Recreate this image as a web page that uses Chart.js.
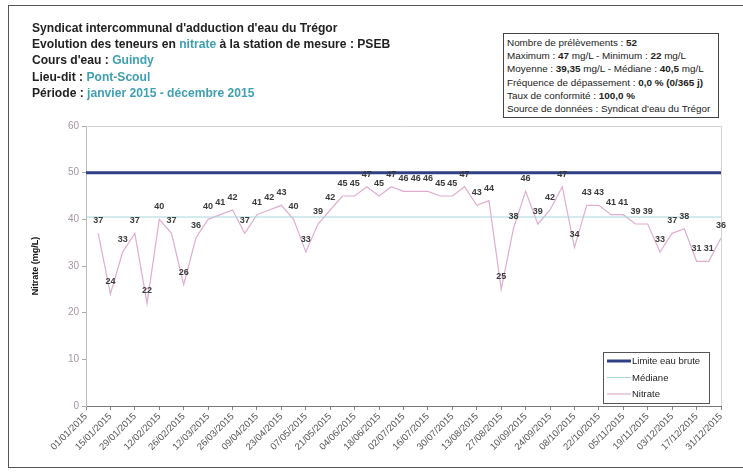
<!DOCTYPE html>
<html>
<head>
<meta charset="utf-8">
<script src="https://cdn.jsdelivr.net/npm/chart.js@4"></script>
<style>
  html,body{margin:0;padding:0;background:#fff;}
  body{width:743px;height:474px;position:relative;overflow:hidden;font-family:"Liberation Sans",Arial,sans-serif;}
  #frame{position:absolute;left:8px;top:5px;width:760px;height:463px;border:1.5px solid #555;box-sizing:border-box;}
  #title{position:absolute;left:32px;top:20px;font-weight:bold;font-size:12.1px;line-height:16.2px;color:#222;white-space:nowrap;}
  #title .c{color:#3f9fb3;}
  #info{position:absolute;left:503px;top:33px;width:216px;height:85px;border:1px solid #444;box-sizing:border-box;padding:2px 0 0 3px;font-size:9.9px;line-height:13.2px;color:#222;white-space:nowrap;background:#fff;}
  #info b{font-weight:bold;}
  canvas{position:absolute;left:0;top:0;}
</style>
</head>
<body>
<div id="frame"></div>
<canvas id="c" width="743" height="474"></canvas>
<div id="title">
  <div>Syndicat intercommunal d'adduction d'eau du Trégor</div>
  <div>Evolution des teneurs en <span class="c">nitrate</span> à la station de mesure : PSEB</div>
  <div>Cours d'eau : <span class="c">Guindy</span></div>
  <div>Lieu-dit : <span class="c">Pont-Scoul</span></div>
  <div>Période : <span class="c">janvier 2015 - décembre 2015</span></div>
</div>
<div id="info">
  <div>Nombre de prélèvements : <b>52</b></div>
  <div>Maximum : <b>47</b> mg/L - Minimum : <b>22</b> mg/L</div>
  <div>Moyenne : <b>39,35</b> mg/L - Médiane : <b>40,5</b> mg/L</div>
  <div>Fréquence de dépassement : <b>0,0 % (0/365 j)</b></div>
  <div>Taux de conformité : <b>100,0 %</b></div>
  <div>Source de données : Syndicat d'eau du Trégor</div>
</div>
<script>
// ---- DATA ----
const sampleDates = [
  "08/01/2015","15/01/2015","22/01/2015","29/01/2015",
  "05/02/2015","12/02/2015","19/02/2015","26/02/2015",
  "05/03/2015","12/03/2015","19/03/2015","26/03/2015",
  "02/04/2015","09/04/2015","16/04/2015","23/04/2015","30/04/2015",
  "07/05/2015","14/05/2015","21/05/2015","28/05/2015",
  "04/06/2015","11/06/2015","18/06/2015","25/06/2015",
  "02/07/2015","09/07/2015","16/07/2015","23/07/2015","30/07/2015",
  "06/08/2015","13/08/2015","20/08/2015","27/08/2015",
  "03/09/2015","10/09/2015","17/09/2015","24/09/2015",
  "01/10/2015","08/10/2015","15/10/2015","22/10/2015","29/10/2015",
  "05/11/2015","12/11/2015","19/11/2015","26/11/2015",
  "03/12/2015","10/12/2015","17/12/2015","24/12/2015","31/12/2015"
];
const nitrate = [
  37,24,33,37,
  22,40,37,26,
  36,40,41,42,
  37,41,42,43,40,
  33,39,42,45,
  45,47,45,47,
  46,46,46,45,45,
  47,43,44,25,
  38,46,39,42,
  47,34,43,43,41,
  41,39,39,33,
  37,38,31,31,36
];
const tickLabels = [
  "01/01/2015","15/01/2015","29/01/2015","12/02/2015","26/02/2015","12/03/2015",
  "26/03/2015","09/04/2015","23/04/2015","07/05/2015","21/05/2015","04/06/2015",
  "18/06/2015","02/07/2015","16/07/2015","30/07/2015","13/08/2015","27/08/2015",
  "10/09/2015","24/09/2015","08/10/2015","22/10/2015","05/11/2015","19/11/2015",
  "03/12/2015","17/12/2015","31/12/2015"
];
const medianValue = 40.5;
const limitValue = 50;
const seriesNames = ["Limite eau brute","Médiane","Nitrate"];
const yMin = 0, yMax = 60, yStep = 10;

// ---- helpers ----
const startDate = Date.UTC(2015,0,1);
function dayIndex(s){
  const [d,m,y] = s.split("/").map(Number);
  return Math.round((Date.UTC(y,m-1,d)-startDate)/86400000);
}
const xMax = dayIndex(tickLabels[tickLabels.length-1]);
const tickStep = dayIndex(tickLabels[1]) - dayIndex(tickLabels[0]);

const nitratePts = sampleDates.map((d,i)=>({x:dayIndex(d), y:nitrate[i]}));
const colors = {limit:"#2f3f85", median:"#a8d5da", nitrate:"#dfadd0"};

const decorPlugin = {
  id:"decor",
  beforeDatasetsDraw(chart){
    const {ctx, chartArea:a} = chart;
    ctx.save();
    ctx.strokeStyle = "#d2d2d2";
    ctx.lineWidth = 1;
    ctx.beginPath();
    ctx.moveTo(a.left, a.top+0.5); ctx.lineTo(a.right+0.5, a.top+0.5); ctx.lineTo(a.right+0.5, a.bottom);
    ctx.stroke();
    ctx.restore();
  },
  afterDatasetsDraw(chart){
    const {ctx} = chart;
    const meta = chart.getDatasetMeta(2);
    ctx.save();
    ctx.font = "bold 9px 'Liberation Sans', Arial, sans-serif";
    ctx.fillStyle = "#3a3a3a";
    ctx.textAlign = "center";
    ctx.textBaseline = "bottom";
    meta.data.forEach((pt,i)=>{
      ctx.fillText(String(nitrate[i]), pt.x, pt.y - 8);
    });
    ctx.restore();
  },
  afterDraw(chart){
    const {ctx} = chart;
    const bx = 603, by = 352, bw = 106, bh = 51;
    ctx.save();
    ctx.fillStyle = "#fff";
    ctx.fillRect(bx,by,bw,bh);
    ctx.strokeStyle = "#555";
    ctx.lineWidth = 1;
    ctx.strokeRect(bx+0.5,by+0.5,bw,bh);
    const items = [
      {c:colors.limit, w:3},
      {c:colors.median, w:1},
      {c:colors.nitrate, w:1.2}
    ];
    ctx.font = "9.5px 'Liberation Sans', Arial, sans-serif";
    ctx.textBaseline = "middle";
    ctx.textAlign = "left";
    items.forEach((it,i)=>{
      const y = by + 9 + i*16.5;
      ctx.strokeStyle = it.c; ctx.lineWidth = it.w;
      ctx.beginPath(); ctx.moveTo(bx+4,y); ctx.lineTo(bx+28,y); ctx.stroke();
      ctx.fillStyle = "#222";
      ctx.fillText(seriesNames[i], bx+29, y+0.5);
    });
    ctx.restore();
  }
};

new Chart(document.getElementById("c"), {
  type:"line",
  data:{
    datasets:[
      {label:seriesNames[0], data:[{x:0,y:limitValue},{x:xMax,y:limitValue}], borderColor:colors.limit, borderWidth:3, pointRadius:0},
      {label:seriesNames[1], data:[{x:0,y:medianValue},{x:xMax,y:medianValue}], borderColor:colors.median, borderWidth:1, pointRadius:0},
      {label:seriesNames[2], data:nitratePts, borderColor:colors.nitrate, borderWidth:1.2, pointRadius:0, tension:0}
    ]
  },
  options:{
    responsive:false,
    animation:false,
    devicePixelRatio:1,
    layout:{padding:{top:126,right:22,left:30,bottom:0}},
    plugins:{legend:{display:false}, tooltip:{enabled:false}},
    scales:{
      x:{
        type:"linear", min:0, max:xMax,
        grid:{display:true, drawOnChartArea:false, drawTicks:true, tickLength:4, color:"#888"},
        border:{color:"#777", width:1},
        ticks:{stepSize:tickStep, autoSkip:false, maxRotation:45, minRotation:45, padding:1,
          color:"#555", font:{size:9.5, family:"'Liberation Sans', Arial, sans-serif"},
          callback:(v)=>tickLabels[Math.round(v/tickStep)] || ""},
        afterFit(s){ s.height = 68; }
      },
      y:{
        min:yMin, max:yMax,
        grid:{display:true, drawOnChartArea:false, drawTicks:true, tickLength:4, color:"#aaa"},
        border:{color:"#bbb", width:1},
        ticks:{stepSize:yStep, color:"#a796a6", padding:3, font:{size:10, family:"'Liberation Sans', Arial, sans-serif"}},
        title:{display:true, text:"Nitrate (mg/L)", color:"#111", font:{size:9, weight:"bold", family:"'Liberation Sans', Arial, sans-serif"}, padding:{top:0,bottom:0}},
        afterFit(s){ s.width = 56; }
      }
    }
  },
  plugins:[decorPlugin]
});
</script>
</body>
</html>
